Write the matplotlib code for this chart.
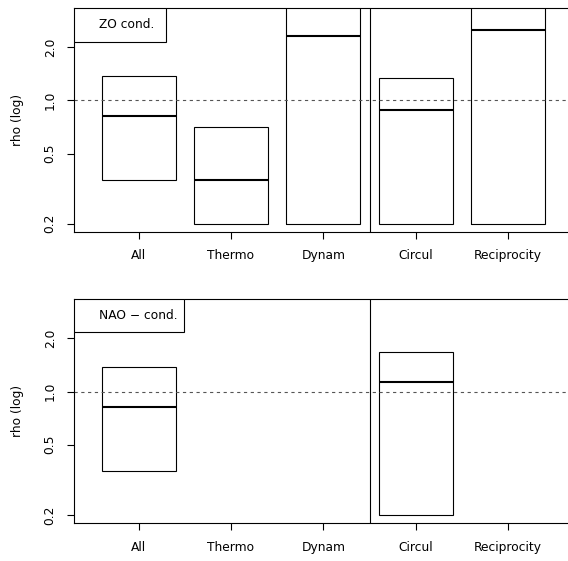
import numpy as np
import matplotlib
matplotlib.use("Agg")
import matplotlib.pyplot as plt
from matplotlib.patches import Rectangle

# Kategoriler ve kutu değerleri (log ölçek, rho)
categories = ["All", "Thermo", "Dynam", "Circul", "Reciprocity"]

zo_lower = [0.356, 0.2, 0.2, 0.2, 0.2]
zo_median = [0.82, 0.356, 2.31, 0.887, 2.50]
zo_upper = [1.377, 0.708, 4.0, 1.34, 4.0]

nao_lower = [0.356, np.nan, np.nan, 0.2, np.nan]
nao_median = [0.82, np.nan, np.nan, 1.127, np.nan]
nao_upper = [1.377, np.nan, np.nan, 1.68, np.nan]

panel_titles = ["ZO cond.", "NAO \u2212 cond."]
yticks = [0.2, 0.5, 1.0, 2.0]
ytick_labels = ["0.2", "0.5", "1.0", "2.0"]

fs = 8.8
W, H = 568, 561
fig = plt.figure(figsize=(W / 100, H / 100), dpi=100)

# eksen konumları piksel olarak (sağ kenar resmin dışına taşıyor)
panels = [
    (74, 572.8, 8, 232, zo_lower, zo_median, zo_upper, 0.1838, 0.1504),
    (74, 572.8, 299, 523.3, nao_lower, nao_median, nao_upper, 0.2205, 0.1485),
]

x = np.arange(1, len(categories) + 1)
ylo = 10 ** (np.log10(0.2) - 0.04 * np.log10(3 / 0.2))
yhi = 10 ** (np.log10(3) + 0.04 * np.log10(3 / 0.2))

for i, (l, r, t, b, lo, med, up, bw, bh) in enumerate(panels):
    ax = fig.add_axes([l / W, 1 - b / H, (r - l) / W, (b - t) / H])
    lo = np.array(lo)
    med = np.array(med)
    up = np.array(up)
    ok = ~np.isnan(lo)
    ax.bar(x[ok], up[ok] - lo[ok], bottom=lo[ok], width=0.8, fill=False,
           edgecolor="black", linewidth=0.8)
    ax.hlines(med[ok], x[ok] - 0.4, x[ok] + 0.4, colors="black", linewidth=1.5)
    ax.set_yscale("log")
    ax.set_xlim(0.3, 5.7)
    ax.set_ylim(ylo, yhi)
    ax.axhline(1.0, color="#555555", linewidth=0.8, linestyle=(0, (2.9, 3.2)))
    ax.axvline(3.5, color="black", linewidth=0.8)

    ax.set_xticks(x)
    ax.set_xticklabels(categories, fontsize=fs)
    ax.set_yticks(yticks)
    ax.set_yticklabels(ytick_labels, fontsize=fs, rotation=90, va="center")
    ax.yaxis.set_minor_locator(matplotlib.ticker.NullLocator())
    ax.tick_params(axis="both", length=5, width=0.8, pad=7.5)
    ax.set_ylabel("rho (log)", fontsize=fs, labelpad=14)
    for s in ax.spines.values():
        s.set_linewidth(0.8)

    ax.add_patch(Rectangle((0, 1 - bh), bw, bh, transform=ax.transAxes,
                           fill=True, facecolor="white", edgecolor="black",
                           linewidth=0.8, zorder=5))
    ax.text(0.05, 1 - bh / 2, panel_titles[i], transform=ax.transAxes,
            fontsize=fs, va="center", ha="left", zorder=6)

fig.savefig("out.png", dpi=100)
